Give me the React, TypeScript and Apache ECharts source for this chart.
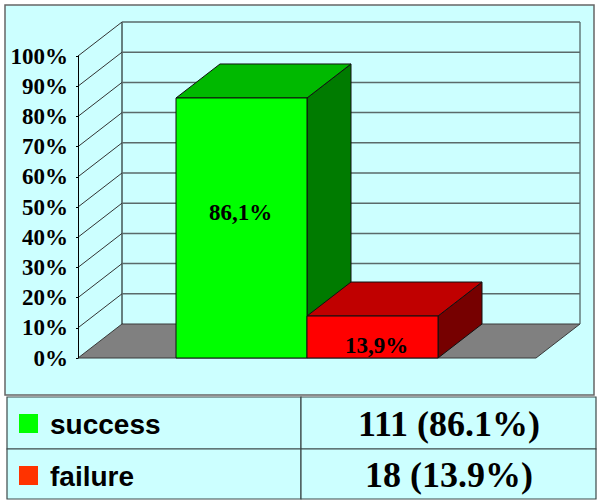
import React, { useEffect, useRef } from "react";
import * as echarts from "echarts";

const categories = ["Result"];
const seriesNames = ["success", "failure"];
const percentValues = [86.1, 13.9];
const barLabels = ["86,1%", "13,9%"];
const tableValues = ["111 (86.1%)", "18 (13.9%)"];
const gridValues = [0, 10, 20, 30, 40, 50, 60, 70, 80, 90, 100];

const FRONT = ["#00ff00", "#ff0000"];
const TOP = ["#00b900", "#c00000"];
const SIDE = ["#007b00", "#760000"];
const SWATCH = ["#00ff00", "#ff3300"];
const LABEL_SHIFT = [-15, 8];
const LABEL_X_SHIFT = [-1, 4];
const DX = 44;
const DY = -34;
const BAR_W = 131;
const SERIF = "'Liberation Serif', 'Times New Roman', serif";
const SANS = "'Liberation Sans', Arial, sans-serif";
const PANEL = "#ccffff";

function wallItem(params: any, api: any) {
  const v = api.value(1);
  const cs = params.coordSys;
  const y = api.coord([0, v])[1];
  const x0 = cs.x;
  const x1 = cs.x + cs.width;
  const children: any[] = [];
  if (v === 0) {
    children.push({
      type: "polygon",
      shape: { points: [[x0, y], [x0 + DX, y + DY], [x1 + DX, y + DY], [x1, y]] },
      style: { fill: "#808080", stroke: "#3a3a3a", lineWidth: 1 },
    });
    children.push({
      type: "line",
      shape: { x1: x0 + DX, y1: y + DY, x2: x0 + DX, y2: cs.y + DY },
      style: { stroke: "#000", lineWidth: 1 },
    });
    children.push({
      type: "line",
      shape: { x1: x1 + DX, y1: y + DY, x2: x1 + DX, y2: cs.y + DY },
      style: { stroke: "#4a5a5a", lineWidth: 1.2 },
    });
  } else {
    children.push({
      type: "line",
      shape: { x1: x0, y1: y, x2: x0 + DX, y2: y + DY },
      style: { stroke: "#333", lineWidth: 1 },
    });
    children.push({
      type: "line",
      shape: { x1: x0 + DX, y1: y + DY, x2: x1 + DX, y2: y + DY },
      style: { stroke: "#5a6a6a", lineWidth: 1.5 },
    });
  }
  return { type: "group", children };
}

function barItem(idx: number) {
  return (params: any, api: any) => {
    const v = api.value(1);
    const [cx, yTop] = api.coord([0, v]);
    const yBase = api.coord([0, 0])[1];
    const left = idx === 0 ? cx - BAR_W : cx;
    const right = left + BAR_W;
    const line = { stroke: "#111", lineWidth: 1 };
    return {
      type: "group",
      children: [
        {
          type: "polygon",
          shape: { points: [[right, yBase], [right + DX, yBase + DY], [right + DX, yTop + DY], [right, yTop]] },
          style: { fill: SIDE[idx], ...line },
        },
        {
          type: "polygon",
          shape: { points: [[left, yTop], [left + DX, yTop + DY], [right + DX, yTop + DY], [right, yTop]] },
          style: { fill: TOP[idx], ...line },
        },
        {
          type: "rect",
          shape: { x: left, y: yTop, width: BAR_W, height: yBase - yTop },
          style: { fill: FRONT[idx], ...line },
        },
        {
          type: "text",
          x: (left + right) / 2 + LABEL_X_SHIFT[idx],
          y: (yTop + yBase) / 2 + LABEL_SHIFT[idx],
          style: {
            text: barLabels[idx],
            fill: "#000",
            font: `bold 23px ${SERIF}`,
            textAlign: "center",
            textVerticalAlign: "middle",
          },
        },
      ],
    };
  };
}

function tableGraphics() {
  const rows = [[397, 449], [449, 499]];
  const out: any[] = [];
  const border = { stroke: "#3c4a4a", lineWidth: 1.2 };
  rows.forEach(([top, bottom], i) => {
    const mid = (top + bottom) / 2;
    out.push(
      { type: "rect", shape: { x: 7, y: top, width: 294, height: bottom - top }, style: { fill: PANEL, ...border } },
      { type: "rect", shape: { x: 301, y: top, width: 295, height: bottom - top }, style: { fill: PANEL, ...border } },
      { type: "rect", shape: { x: 19, y: top + 17, width: 19, height: 19 }, style: { fill: SWATCH[i] } },
      {
        type: "text",
        x: 50,
        y: mid + (i === 0 ? 1 : 2),
        style: { text: seriesNames[i], fill: "#000", font: `bold 28px ${SANS}`, textAlign: "left", textVerticalAlign: "middle" },
      },
      {
        type: "text",
        x: 449,
        y: mid + 1,
        style: { text: tableValues[i], fill: "#000", font: `bold 36px ${SERIF}`, textAlign: "center", textVerticalAlign: "middle" },
      },
    );
  });
  return out;
}

export default function App() {
  const ref = useRef<HTMLDivElement>(null);
  useEffect(() => {
    const chart = echarts.init(ref.current!, undefined, { renderer: "svg" });
    chart.setOption({
      animation: false,
      backgroundColor: "#ffffff",
      grid: { left: 78, top: 56, width: 458, height: 302, containLabel: false },
      xAxis: {
        type: "category",
        data: categories,
        axisLine: { show: false },
        axisTick: { show: false },
        axisLabel: { show: false },
      },
      yAxis: {
        type: "value",
        min: 0,
        max: 100,
        interval: 10,
        z: 5,
        splitLine: { show: false },
        axisLine: { show: true, lineStyle: { color: "#000", width: 1 } },
        axisTick: { show: true, length: 2, lineStyle: { color: "#000" } },
        axisLabel: {
          margin: 10,
          padding: [4, 0, 0, 0],
          formatter: "{value}%",
          color: "#000",
          fontFamily: SERIF,
          fontWeight: "bold",
          fontSize: 23,
        },
      },
      graphic: [
        {
          type: "rect",
          z: -10,
          shape: { x: 5, y: 5, width: 589, height: 390 },
          style: { fill: PANEL, stroke: "#666", lineWidth: 1.5 },
          silent: true,
        },
        ...tableGraphics(),
      ],
      series: [
        {
          type: "custom",
          name: "grid",
          z: 1,
          silent: true,
          clip: false,
          renderItem: wallItem,
          encode: { x: 0, y: 1 },
          data: gridValues.map((v) => [0, v]),
        },
        ...seriesNames.map((name, i) => ({
          type: "custom",
          name,
          z: 2 + i,
          clip: false,
          renderItem: barItem(i),
          encode: { x: 0, y: 1 },
          data: [[0, percentValues[i]]],
        })),
      ],
    });
    return () => chart.dispose();
  }, []);
  return <div ref={ref} style={{ position: "absolute", left: 0, top: 0, width: 600, height: 501 }} />;
}
